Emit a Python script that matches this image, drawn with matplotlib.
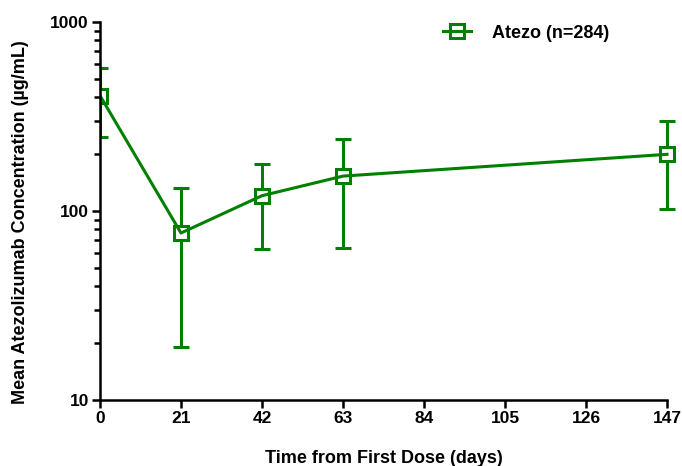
import matplotlib
matplotlib.use("Agg")
import matplotlib.pyplot as plt
from matplotlib.lines import Line2D
from matplotlib.patches import Rectangle
from matplotlib.ticker import LogLocator, NullFormatter, FixedLocator
import numpy as np

plt.rcParams['font.family'] = ['Liberation Sans', 'DejaVu Sans']
plt.rcParams['font.weight'] = 'bold'

# mean concentration with upper / lower error bar ends
days = [0, 21, 42, 63, 147]
mean_conc = [408, 76.5, 120.5, 153, 199.5]
upper = [571, 133, 177, 240, 298]
lower = [246, 19.0, 63, 63.5, 102]
x_ticks = [0, 21, 42, 63, 84, 105, 126, 147]
series_label = 'Atezo (n=284)'
green = '#008000'

fig = plt.figure(figsize=(6.82, 4.66), dpi=100)
ax = fig.add_axes([0.1466, 0.1416, 0.8314, 0.8112])

mean_arr = np.array(mean_conc)
yerr = [mean_arr - np.array(lower), np.array(upper) - mean_arr]
# error bars underneath, white-filled squares hide the bar inside, line on top
eb = ax.errorbar(days, mean_conc, yerr=yerr, fmt='none', ecolor=green, elinewidth=2.2,
                 capsize=5.8, capthick=2.2, zorder=2)
marks, = ax.plot(days, mean_conc, ls='none', marker='s', markersize=9.5,
                 markerfacecolor='white', markeredgecolor=green, markeredgewidth=2.2,
                 zorder=3)
conn, = ax.plot(days, mean_conc, color=green, lw=2.2, zorder=3.5)

# clip only at the left spine, let the last point spill over the right edge
clip_box = Rectangle((0, -0.1), 1.2, 1.2, transform=ax.transAxes)
artists = [marks, conn] + list(eb.lines[1]) + list(eb.lines[2])
for a in artists:
    a.set_clip_path(clip_box)

ax.set_yscale('log')
ax.set_ylim(10, 1000)
ax.set_xlim(0, 147)
ax.xaxis.set_major_locator(FixedLocator(x_ticks))
ax.yaxis.set_major_locator(FixedLocator([10, 100, 1000]))
ax.yaxis.set_major_formatter(matplotlib.ticker.FuncFormatter(lambda v, p: '%d' % v))
ax.yaxis.set_minor_locator(LogLocator(base=10, subs=np.arange(2, 10)))
ax.yaxis.set_minor_formatter(NullFormatter())

for side in ['top', 'right']:
    ax.spines[side].set_visible(False)
for side in ['left', 'bottom']:
    ax.spines[side].set_linewidth(1.8)
    ax.spines[side].set_zorder(4)

ax.tick_params(axis='both', which='major', direction='out', length=6, width=1.8,
               labelsize=12.5, pad=2)
ax.tick_params(axis='y', which='minor', direction='out', length=4, width=1.8)
for lab in ax.get_xticklabels() + ax.get_yticklabels():
    lab.set_fontweight('bold')

ax.set_xlabel('Time from First Dose (days)', fontsize=13, fontweight='bold')
ax.set_ylabel('Mean Atezolizumab Concentration (µg/mL)', fontsize=13,
              fontweight='bold')
ax.xaxis.set_label_coords(0.5, -0.133)
ax.yaxis.set_label_coords(-0.125, 0.47)

handle = Line2D([], [], color=green, lw=2.2, marker='s', markersize=9.5,
                markerfacecolor='none', markeredgecolor=green, markeredgewidth=2.2)
ax.legend([handle], [series_label], loc='upper left', bbox_to_anchor=(0.576, 1.036),
          frameon=False, prop={'weight': 'bold', 'size': 13}, handlelength=1.55,
          handletextpad=1.2)

fig.savefig('out.png', dpi=100)
